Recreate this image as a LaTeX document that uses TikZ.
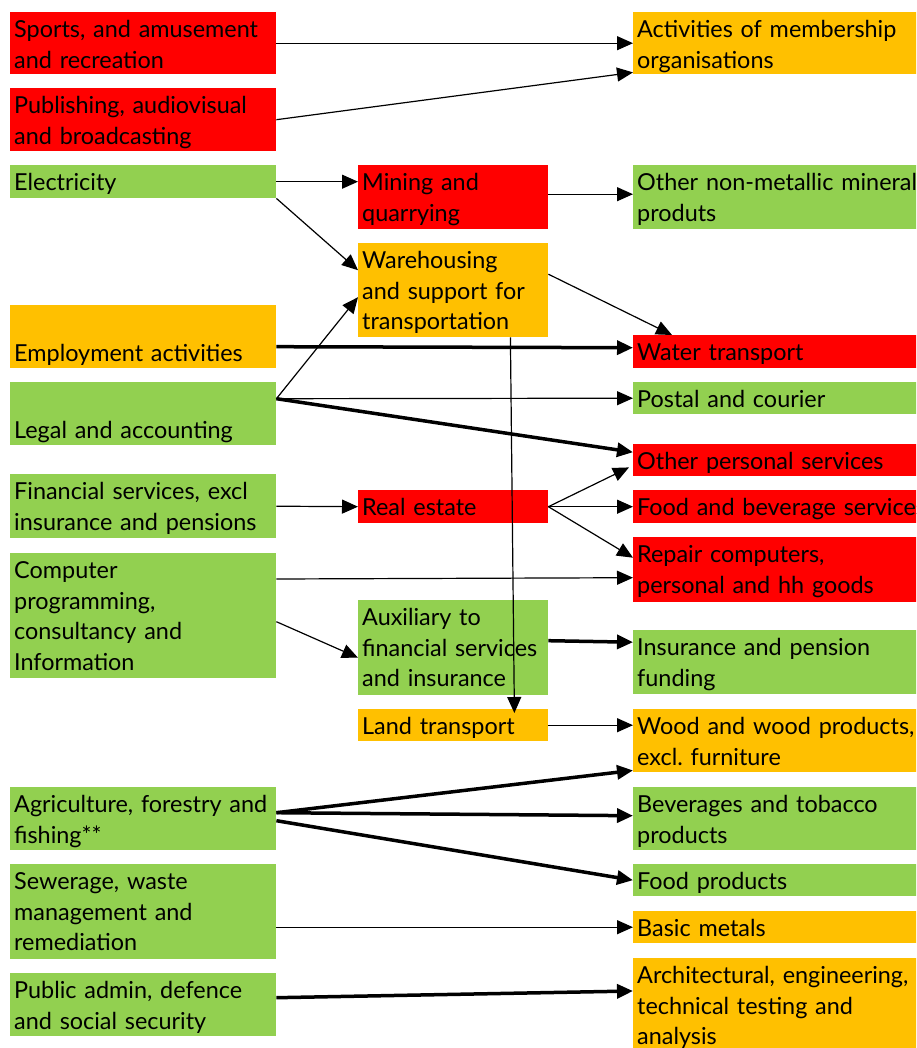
\documentclass[tikz,border=0pt]{standalone}
\usepackage{fontspec}
\setmainfont[WordSpace=0.8]{Lato}
\usetikzlibrary{arrows.meta}
\frenchspacing

\definecolor{sred}{HTML}{FF0000}
\definecolor{sorange}{HTML}{FFC000}
\definecolor{sgreen}{HTML}{92D050}

\tikzset{
    box/.style={rectangle, anchor=north west, align=left, inner xsep=4pt, inner ysep=0pt,
        text height=25.5pt, font=\fontsize{23.4}{30.5}\selectfont},
    lbox/.style={box, text width=258pt},
    mbox/.style={box, text width=182pt},
    rbox/.style={box, text width=300pt},
    deep/.style={text depth=#1},
    lowbox/.style={text height=56pt, text depth=7pt},
    link/.style={-{Triangle[length=16pt,width=14pt]}, line width=1.2pt},
    heavy/.style={link, line width=3.5pt},
}

\begin{document}
\begin{tikzpicture}[x=1pt, y=-1pt]
    \useasboundingbox (0,0) rectangle (916,1048);
    \clip (0,0) rectangle (916,1048);
    % Define sectors, left column
        \node[lbox, fill=sred, deep=36.5pt] (sports) at (10,12) {Sports, and amusement\\and recreation};
        \node[lbox, fill=sred, deep=37.5pt] (publish) at (10,88) {Publishing, audiovisual\\and broadcasting};
        \node[lbox, fill=sgreen, deep=7.5pt] (elec) at (10,165) {Electricity};
        \node[lbox, lowbox, fill=sorange] (employ) at (10,305) {Employment activities};
        \node[lbox, lowbox, fill=sgreen] (legal) at (10,382) {Legal and accounting};
        \node[lbox, fill=sgreen, deep=38.5pt] (fin) at (10,474) {Financial services, excl\\insurance and pensions};
        \node[lbox, fill=sgreen, deep=99.5pt] (comp) at (10,553) {Computer\\programming,\\consultancy and\\Information};
        \node[lbox, fill=sgreen, deep=37.5pt] (agri) at (10,787) {Agriculture, forestry~and\\fishing**};
        \node[lbox, fill=sgreen, deep=69.5pt] (sewer) at (10,864) {Sewerage, waste\\management and\\remediation};
        \node[lbox, fill=sgreen, deep=37.5pt] (pubad) at (10,973) {Public admin, defence\\and social security};
    % middle column
        \node[mbox, fill=sred, deep=38.5pt] (mining) at (358,165) {Mining and\\quarrying};
        \node[mbox, fill=sorange, deep=68.5pt] (ware) at (358,243) {Warehousing\\and support for\\transportation};
        \node[mbox, fill=sred, deep=7.5pt] (real) at (358,490) {Real estate};
        \node[mbox, fill=sgreen, deep=69.5pt] (aux) at (358,600) {Auxiliary to\\financial~services\\and insurance};
        \node[mbox, fill=sorange, deep=6.5pt] (land) at (358,709) {Land transport};
    % right column
        \node[rbox, fill=sorange, deep=36.5pt] (member) at (633,12) {Activities of membership\\organisations};
        \node[rbox, fill=sgreen, deep=38.5pt] (nonmet) at (633,165) {Other non-metallic mineral\\produts};
        \node[rbox, fill=sred, deep=7.5pt] (water) at (633,335) {Water transport};
        \node[rbox, fill=sgreen, deep=6.5pt] (postal) at (633,382) {Postal and courier};
        \node[rbox, fill=sred, deep=6.5pt] (other) at (633,444) {Other personal services};
        \node[rbox, fill=sred, deep=7.5pt] (foodbev) at (633,490) {Food and beverage services};
        \node[rbox, fill=sred, deep=39.5pt] (repair) at (633,537) {Repair computers,\\personal and hh goods};
        \node[rbox, fill=sgreen, deep=38.5pt] (insur) at (633,630) {Insurance and pension\\funding};
        \node[rbox, fill=sorange, deep=37.5pt] (wood) at (633,709) {Wood and wood products,\\excl. furniture};
        \node[rbox, fill=sgreen, deep=37.5pt] (bev) at (633,787) {Beverages and tobacco\\products};
        \node[rbox, fill=sgreen, deep=6.5pt] (foodp) at (633,864) {Food products};
        \node[rbox, fill=sorange, deep=6.5pt] (metals) at (633,911) {Basic metals};
        \node[rbox, fill=sorange, deep=69.5pt] (arch) at (633,958) {Architectural, engineering,\\technical testing and\\analysis};
    % Draw arrows
        \coordinate (legalout) at ([yshift=15pt]legal.east);
        \coordinate (agriout) at ([yshift=6pt]agri.east);
        \draw[link] (sports.east) -- (member.west);
        \draw[link] (publish.east) -- ([yshift=2pt]member.south west);
        \draw[link] (elec.east) -- (elec.east -| mining.west);
        \draw[link] (elec.south east) -- ([yshift=20pt]ware.west);
        \draw[link] ([yshift=3pt]mining.east) -- ([yshift=3pt]nonmet.west);
        \draw[link] ([yshift=16pt]ware.east) -- ([xshift=39pt]water.north west);
        \draw[heavy] ([yshift=-10pt]employ.east) -- ([yshift=4pt]water.west);
        \draw[link] (legalout) -- ([yshift=-7pt]ware.west);
        \draw[link] (legalout) -- (postal.west);
        \draw[heavy] (legalout) -- ([yshift=8pt]other.west);
        \draw[link] (fin.east) -- (real.west);
        \draw[link] (real.east) -- ([xshift=-4pt,yshift=9pt]other.south west);
        \draw[link] (real.east) -- (foodbev.west);
        \draw[link] (real.east) -- ([yshift=12pt]repair.west);
        \draw[link] ([yshift=-26pt]comp.north east) -- ([yshift=-8pt]repair.west);
        \draw[link] ([yshift=-6pt]comp.east) -- ([yshift=-10pt]aux.west);
        \draw[heavy] ([yshift=7pt]aux.east) -- ([yshift=20pt]insur.west);
        \draw[link] ([xshift=-38pt]ware.south east) -- ([xshift=-34pt,yshift=-4pt]land.north east);
        \draw[link] (land.east) -- (land.east -| wood.west);
        \draw[heavy] (agriout) -- ([yshift=2pt]wood.south west);
        \draw[heavy] (agriout) -- ([yshift=3pt]bev.west);
        \draw[heavy] ([yshift=-2pt]agri.east) -- (foodp.west);
        \draw[link] (sewer.east |- metals.west) -- (metals.west);
        \draw[heavy] ([yshift=7pt]pubad.east) -- ([yshift=-33pt]arch.north west);
\end{tikzpicture}
\end{document}
